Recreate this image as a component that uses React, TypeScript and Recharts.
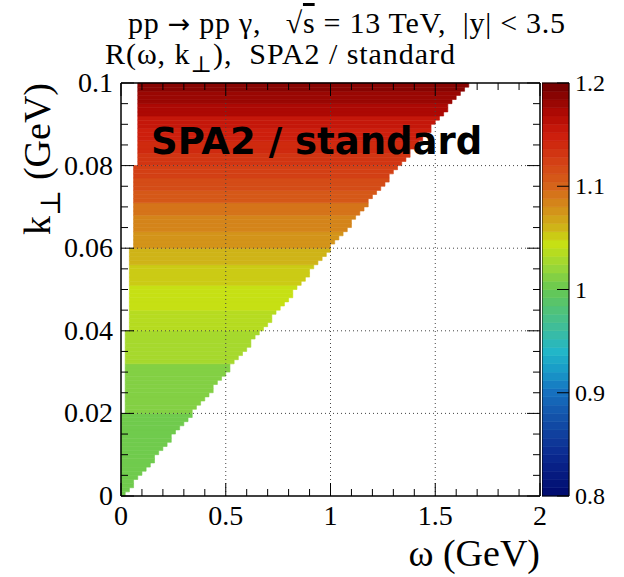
import { ComposedChart, ReferenceArea, ReferenceLine, Scatter, XAxis, YAxis } from "recharts";

// 2D histogram binning: 100 bins in omega (0..2 GeV), 100 bins in k_perp (0..0.1 GeV)
const OMEGA_BIN = 0.02;
const K_BIN = 0.001;

// first filled omega edge for each 0.02-wide slice of k_perp (bottom to top)
const sliceLeftEdge = [0, 0.02, 0.04, 0.06, 0.08];

// last filled omega bin (units of 0.02 GeV) for each k_perp row, bottom to top
const rowRightBin = [
  1, 2, 3, 3, 4, 5, 6, 7, 8, 8, 9, 10, 11, 12, 12, 13, 14, 15, 16, 17,
  17, 18, 19, 20, 21, 22, 22, 23, 24, 25, 26, 26, 27, 28, 29, 30, 31, 31, 32, 33,
  34, 35, 36, 36, 37, 38, 39, 40, 41, 41, 42, 43, 44, 45, 45, 46, 47, 48, 49, 50,
  50, 51, 52, 53, 54, 55, 55, 56, 57, 58, 59, 59, 60, 61, 62, 63, 64, 64, 65, 66,
  67, 68, 69, 69, 70, 71, 72, 73, 74, 74, 75, 76, 77, 78, 78, 79, 80, 81, 82, 83,
];

// R barely changes along omega: first row of each colour band and its ratio
const bandStartRow = [0, 20, 32, 40, 45, 51, 56, 60, 64, 68, 71, 74, 77, 80, 83, 86, 89, 92, 95, 98];
const bandRatio = [
  1.003, 1.012, 1.025, 1.032, 1.045, 1.053, 1.062, 1.072, 1.085, 1.095,
  1.105, 1.113, 1.12, 1.13, 1.14, 1.15, 1.16, 1.17, 1.18, 1.19,
];

const xTicks = [0, 0.1, 0.2, 0.3, 0.4, 0.5, 0.6, 0.7, 0.8, 0.9, 1, 1.1, 1.2, 1.3, 1.4, 1.5, 1.6, 1.7, 1.8, 1.9, 2];
const xLabels = [0, 0.5, 1, 1.5, 2];
const yTicks = [
  0, 0.005, 0.01, 0.015, 0.02, 0.025, 0.03, 0.035, 0.04, 0.045, 0.05,
  0.055, 0.06, 0.065, 0.07, 0.075, 0.08, 0.085, 0.09, 0.095, 0.1,
];
const yLabels = [0, 0.02, 0.04, 0.06, 0.08, 0.1];
const zTicks = [0.8, 0.9, 1, 1.1, 1.2];
const Z_MIN = 0.8;
const Z_MAX = 1.2;
const N_COLORS = 50;

const paletteStops: Array<[number, string]> = [
  [0.8, "#000a6e"],
  [0.84, "#0b2a90"],
  [0.88, "#1456ac"],
  [0.9, "#1670bf"],
  [0.92, "#1898c8"],
  [0.94, "#22b6c8"],
  [0.96, "#3cbca0"],
  [0.98, "#50c27a"],
  [1.0, "#66c852"],
  [1.02, "#96d63a"],
  [1.045, "#c8e012"],
  [1.06, "#cfb418"],
  [1.08, "#d48c1a"],
  [1.1, "#d6641a"],
  [1.12, "#d44616"],
  [1.15, "#cc1c0c"],
  [1.17, "#b00a04"],
  [1.2, "#6e0000"],
];

const SERIF = '"Liberation Serif", "DejaVu Serif", serif';

function rgb(h: string) {
  return [1, 3, 5].map((i) => parseInt(h.slice(i, i + 2), 16));
}

function paletteColor(v: number) {
  const s = paletteStops;
  if (v <= s[0][0]) return s[0][1];
  for (let i = 1; i < s.length; i++) {
    if (v <= s[i][0]) {
      const t = (v - s[i - 1][0]) / (s[i][0] - s[i - 1][0]);
      const a = rgb(s[i - 1][1]);
      const b = rgb(s[i][1]);
      const c = a.map((x, j) => Math.round(x + (b[j] - x) * t));
      return `rgb(${c[0]},${c[1]},${c[2]})`;
    }
  }
  return s[s.length - 1][1];
}

// ROOT-style discrete palette
function levelColor(v: number) {
  const step = (Z_MAX - Z_MIN) / N_COLORS;
  const idx = Math.min(N_COLORS - 1, Math.max(0, Math.floor((v - Z_MIN) / step)));
  return paletteColor(Z_MIN + (idx + 0.5) * step);
}

const rows = rowRightBin.map((rb, i) => {
  let band = 0;
  bandStartRow.forEach((s, j) => {
    if (i >= s) band = j;
  });
  return {
    k0: i * K_BIN,
    k1: (i + 1) * K_BIN,
    w0: sliceLeftEdge[Math.floor(i / 20)],
    w1: rb * OMEGA_BIN,
    color: levelColor(bandRatio[band]),
  };
});

const zBands = Array.from({ length: N_COLORS }, (_, i) => ({
  u: 0,
  lo: Z_MIN + (i * (Z_MAX - Z_MIN)) / N_COLORS,
}));

const near = (a: number, list: number[]) => list.some((b) => Math.abs(a - b) < 1e-9);
const fmt = (v: number) => String(Number(v.toFixed(3)));

const MAJOR = 13;
const MINOR = 7;

function FrameTick(props: any) {
  const { x, y, payload, side, labels, majors } = props;
  const v = payload.value as number;
  const major = near(v, majors);
  const len = major ? MAJOR : MINOR;
  let line;
  if (side === "bottom") line = <line x1={x} x2={x} y1={y} y2={y - len} stroke="#000" />;
  else if (side === "top") line = <line x1={x} x2={x} y1={y} y2={y + len} stroke="#000" />;
  else if (side === "left") line = <line x1={x} x2={x + len} y1={y} y2={y} stroke="#000" />;
  else line = <line x1={x} x2={x - len} y1={y} y2={y} stroke="#000" />;
  let label = null;
  if (labels && major) {
    if (side === "bottom")
      label = (
        <text x={x} y={y + 29} textAnchor="middle" fontFamily={SERIF} fontSize={28} fill="#000">
          {fmt(v)}
        </text>
      );
    else
      label = (
        <text x={x - 8} y={y + 9} textAnchor="end" fontFamily={SERIF} fontSize={28} fill="#000">
          {fmt(v)}
        </text>
      );
  }
  return (
    <g>
      {line}
      {label}
    </g>
  );
}

function ZTick(props: any) {
  const { x, y, payload } = props;
  const v = payload.value as number;
  return (
    <g>
      <line x1={x} x2={x - 12} y1={y} y2={y} stroke="#000" />
      <text x={x + 6} y={y + 8} fontFamily={SERIF} fontSize={24} fill="#000">
        {fmt(v)}
      </text>
    </g>
  );
}

const frameLine = { stroke: "#000", strokeWidth: 1.5 };
const noShape = () => <g />;
const pre = { whiteSpace: "pre" as const };

export default function App() {
  return (
    <div style={{ position: "absolute", left: 0, top: 0, width: 624, height: 577, background: "#fff" }}>
      <div style={{ position: "absolute", left: 0, top: 0 }}>
        <ComposedChart width={624} height={577} data={rows} margin={{ top: 82, right: 83, bottom: 80, left: 120 }}>
          <XAxis
            xAxisId="b"
            dataKey="w0"
            type="number"
            domain={[0, 2]}
            ticks={xTicks}
            interval={0}
            height={1}
            tickSize={0}
            tickMargin={0}
            tickLine={false}
            axisLine={frameLine}
            tick={(p: any) => <FrameTick {...p} side="bottom" labels majors={xLabels} />}
          />
          <XAxis
            xAxisId="t"
            dataKey="w0"
            orientation="top"
            type="number"
            domain={[0, 2]}
            ticks={xTicks}
            interval={0}
            height={1}
            tickSize={0}
            tickMargin={0}
            tickLine={false}
            axisLine={frameLine}
            tick={(p: any) => <FrameTick {...p} side="top" majors={xLabels} />}
          />
          <YAxis
            yAxisId="l"
            dataKey="k0"
            type="number"
            domain={[0, 0.1]}
            ticks={yTicks}
            interval={0}
            width={1}
            tickSize={0}
            tickMargin={0}
            tickLine={false}
            axisLine={frameLine}
            tick={(p: any) => <FrameTick {...p} side="left" labels majors={yLabels} />}
          />
          <YAxis
            yAxisId="r"
            dataKey="k0"
            orientation="right"
            type="number"
            domain={[0, 0.1]}
            ticks={yTicks}
            interval={0}
            width={1}
            tickSize={0}
            tickMargin={0}
            tickLine={false}
            axisLine={frameLine}
            tick={(p: any) => <FrameTick {...p} side="right" majors={yLabels} />}
          />
          <Scatter xAxisId="b" yAxisId="l" data={rows} shape={noShape} isAnimationActive={false} />
          <Scatter xAxisId="t" yAxisId="r" data={rows} shape={noShape} isAnimationActive={false} />
          {rows.map((r, i) => (
            <ReferenceArea
              key={i}
              xAxisId="b"
              yAxisId="l"
              x1={r.w0}
              x2={r.w1}
              y1={r.k0}
              y2={r.k1}
              fill={r.color}
              fillOpacity={1}
              stroke={r.color}
              strokeWidth={0.6}
            />
          ))}
          {xLabels.slice(1, -1).map((v) => (
            <ReferenceLine key={"gx" + v} xAxisId="b" yAxisId="l" x={v} stroke="#444" strokeDasharray="1 3" />
          ))}
          {yLabels.slice(1, -1).map((v) => (
            <ReferenceLine key={"gy" + v} xAxisId="b" yAxisId="l" y={v} stroke="#444" strokeDasharray="1 3" />
          ))}
        </ComposedChart>
      </div>

      <div style={{ position: "absolute", left: 542, top: 53 }}>
        <ComposedChart width={82} height={473} data={zBands} margin={{ top: 30, right: 54, bottom: 30, left: 0 }}>
          <XAxis xAxisId="c" dataKey="u" hide type="number" domain={[0, 1]} />
          <YAxis
            yAxisId="z"
            dataKey="lo"
            orientation="right"
            type="number"
            domain={[Z_MIN, Z_MAX]}
            ticks={zTicks}
            interval={0}
            width={1}
            tickSize={0}
            tickMargin={0}
            tickLine={false}
            axisLine={false}
            tick={(p: any) => <ZTick {...p} />}
          />
          <Scatter xAxisId="c" yAxisId="z" data={zBands} shape={noShape} isAnimationActive={false} />
          {zBands.map((b, i) => (
            <ReferenceArea
              key={i}
              xAxisId="c"
              yAxisId="z"
              x1={0}
              x2={1}
              y1={b.lo}
              y2={b.lo + (Z_MAX - Z_MIN) / N_COLORS}
              fill={levelColor(b.lo + 0.001)}
              fillOpacity={1}
              stroke={levelColor(b.lo + 0.001)}
              strokeWidth={0.6}
            />
          ))}
          <ReferenceArea xAxisId="c" yAxisId="z" x1={0} x2={1} y1={Z_MIN} y2={Z_MAX} fill="none" stroke="#000" strokeWidth={1} />
        </ComposedChart>
      </div>

      <svg width={624} height={577} style={{ position: "absolute", left: 0, top: 0, pointerEvents: "none" }}>
        <text
          x={128}
          y={33}
          fontFamily={SERIF}
          fontSize={30}
          fill="#000"
          xmlSpace="preserve"
          style={pre}
          textLength={437}
        >
          {"pp "}
          <tspan fontFamily='"DejaVu Sans", sans-serif' fontSize={27}>
            {"\u2192"}
          </tspan>
          {" pp \u03b3,   \u221a"}
          <tspan style={{ textDecoration: "overline" }}>s</tspan>
          {" = 13 TeV,  |y| < 3.5"}
        </text>
        <text
          x={105}
          y={64}
          fontFamily={SERIF}
          fontSize={30}
          fill="#000"
          xmlSpace="preserve"
          style={pre}
          textLength={350}
        >
          {"R(\u03c9, k"}
          <tspan dy={8} fontSize={23}>
            {"\u22a5"}
          </tspan>
          <tspan dy={-8}>{"),  SPA2 / standard"}</tspan>
        </text>
        <text
          x={50}
          y={83}
          transform="rotate(-90 50 83)"
          textAnchor="end"
          fontFamily={SERIF}
          fontSize={38}
          fill="#000"
          xmlSpace="preserve"
          style={pre}
        >
          {"k"}
          <tspan dy={10} fontSize={28}>
            {"\u22a5"}
          </tspan>
          <tspan dy={-10}>{" (GeV)"}</tspan>
        </text>
        <text x={540} y={566} textAnchor="end" fontFamily={SERIF} fontSize={38} fill="#000">
          {"\u03c9 (GeV)"}
        </text>
        <text
          x={151}
          y={154}
          fontFamily='"DejaVu Sans", sans-serif'
          fontWeight="bold"
          fontSize={37}
          fill="#000"
        >
          SPA2 / standard
        </text>
      </svg>
    </div>
  );
}
